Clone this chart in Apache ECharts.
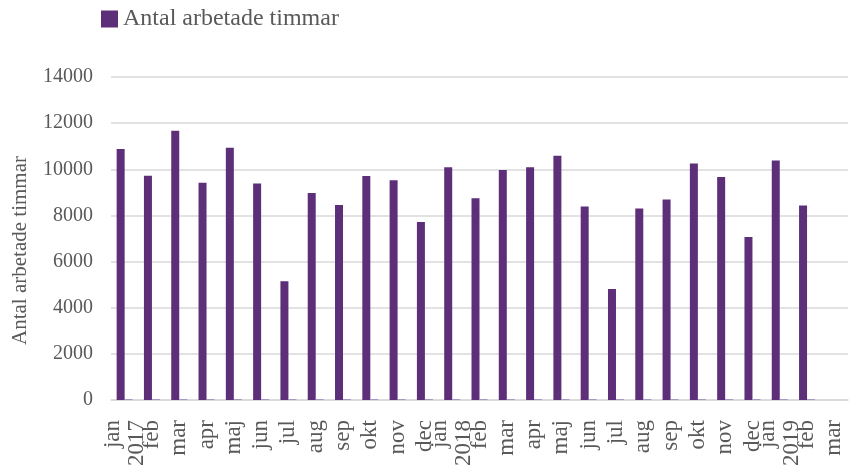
<!DOCTYPE html>
<html><head><meta charset="utf-8">
<script src="https://cdn.jsdelivr.net/npm/echarts@6/dist/echarts.min.js"></script>
<style>html,body{margin:0;padding:0;background:#fff}#c{width:850px;height:466px}</style>
</head><body><div id="c"></div>
<script>
const months = ["jan","feb","mar","apr","maj","jun","jul","aug","sep","okt","nov","dec",
  "jan","feb","mar","apr","maj","jun","jul","aug","sep","okt","nov","dec","jan","feb","mar"];
const yearLabels = {0:"2017",12:"2018",24:"2019"};
const hours = [10880,9720,11670,9420,10930,9380,5150,8970,8450,9710,9530,7710,
  10090,8750,9970,10090,10590,8390,4810,8300,8690,10250,9670,7060,10380,8430,null];
const secondary = [40,40,40,40,40,40,40,40,40,40,40,40,40,40,40,40,40,40,40,40,40,40,40,40,40,40,null];
const yTicks = [0,2000,4000,6000,8000,10000,12000,14000];

const cats = months.map((m,i)=> yearLabels[i] ? m + "\n" + yearLabels[i] : m);
const font = "'Liberation Serif','Times New Roman',serif";
const chart = echarts.init(document.getElementById('c'));
chart.setOption({
  animation:false,
  textStyle:{fontFamily:font},
  legend:{show:true,data:["Antal arbetade timmar"],left:96,top:2,itemWidth:17,itemHeight:17,itemGap:6,
    icon:'rect',textStyle:{fontFamily:font,fontSize:24,color:'#595959'}},
  grid:{left:111,right:2,top:77,bottom:66,containLabel:false,outerBoundsMode:'none'},
  xAxis:{type:'category',data:cats,
    axisLine:{lineStyle:{color:'#d9d9d9',width:1.5}},axisTick:{show:false},
    axisLabel:{rotate:90,interval:0,margin:20,fontFamily:font,fontSize:23,color:'#595959',lineHeight:24}},
  yAxis:{type:'value',min:0,max:14000,interval:2000,
    name:'Antal arbetade timmar',nameLocation:'middle',nameGap:80,nameRotate:90,
    nameTextStyle:{fontFamily:font,fontSize:21,color:'#595959',padding:[0,24,0,0]},
    axisLine:{show:false},axisTick:{show:false},
    axisLabel:{margin:18,fontFamily:font,fontSize:20,color:'#595959',
      formatter:v=>yTicks.includes(v)?String(v):''},
    splitLine:{lineStyle:{color:'#d9d9d9',width:1.5}}},
  series:[
    {name:'Antal arbetade timmar',type:'bar',data:hours,barWidth:8,barGap:'0%',
      itemStyle:{color:'#5c2f78'}},
    {name:'Serie2',type:'bar',data:secondary,barWidth:8,barGap:'0%',
      itemStyle:{color:'#a493bf'}}
  ]
});
</script></body></html>
